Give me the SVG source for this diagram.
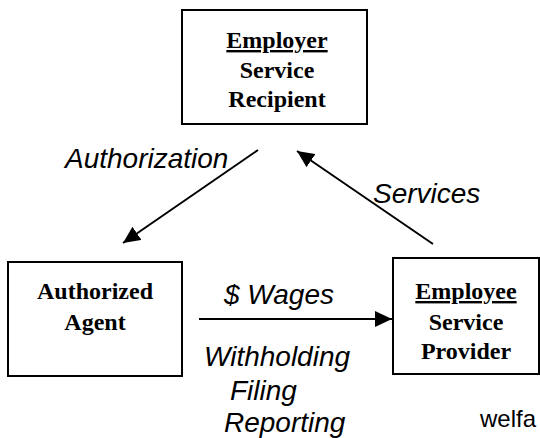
<svg xmlns="http://www.w3.org/2000/svg" width="540" height="438" viewBox="0 0 540 438">
<defs>
<style>
.box{fill:#fff;stroke:#000;stroke-width:2}
.nt{font-family:"Liberation Serif","Times New Roman",serif;font-weight:bold;font-size:24px;fill:#000;text-anchor:middle}
.lb{font-family:"Liberation Sans",Arial,sans-serif;font-style:italic;font-size:28px;fill:#000}
.cn{stroke:#000;stroke-width:2;fill:none}
</style>
<marker id="ah" markerWidth="17" markerHeight="16" refX="17" refY="8" orient="auto" markerUnits="userSpaceOnUse"><path d="M0,0 L17,8 L0,16 z" fill="#000"/></marker>
</defs>
<rect width="540" height="438" fill="#fff"/>
<g id="employer">
<rect class="box" x="182" y="10" width="185" height="114"/>
<text class="nt" x="277" y="48" text-decoration="underline">Employer</text>
<text class="nt" x="277" y="78">Service</text>
<text class="nt" x="277" y="107">Recipient</text>
</g>
<g id="agent">
<rect class="box" x="8" y="262" width="174" height="114"/>
<text class="nt" x="95" y="299">Authorized</text>
<text class="nt" x="95" y="330">Agent</text>
</g>
<g id="employee">
<rect class="box" x="393" y="258" width="146" height="116"/>
<text class="nt" x="466" y="299" text-decoration="underline">Employee</text>
<text class="nt" x="466" y="330">Service</text>
<text class="nt" x="466" y="359">Provider</text>
</g>
<g id="connectors">
<line class="cn" x1="258" y1="150" x2="123" y2="243" marker-end="url(#ah)"/>
<line class="cn" x1="433" y1="244" x2="297" y2="151" marker-end="url(#ah)"/>
<line class="cn" x1="199" y1="319" x2="392" y2="319" marker-end="url(#ah)"/>
</g>
<g id="labels">
<text class="lb" x="65" y="168">Authorization</text>
<text class="lb" x="373" y="203">Services</text>
<text class="lb" x="224" y="304">$ Wages</text>
<text class="lb" x="204" y="366">Withholding</text>
<text class="lb" x="230" y="400">Filing</text>
<text class="lb" x="224" y="432">Reporting</text>
<text x="480" y="427" font-family="Liberation Sans,Arial,sans-serif" font-size="24" fill="#000">welfa</text>
</g>
</svg>
